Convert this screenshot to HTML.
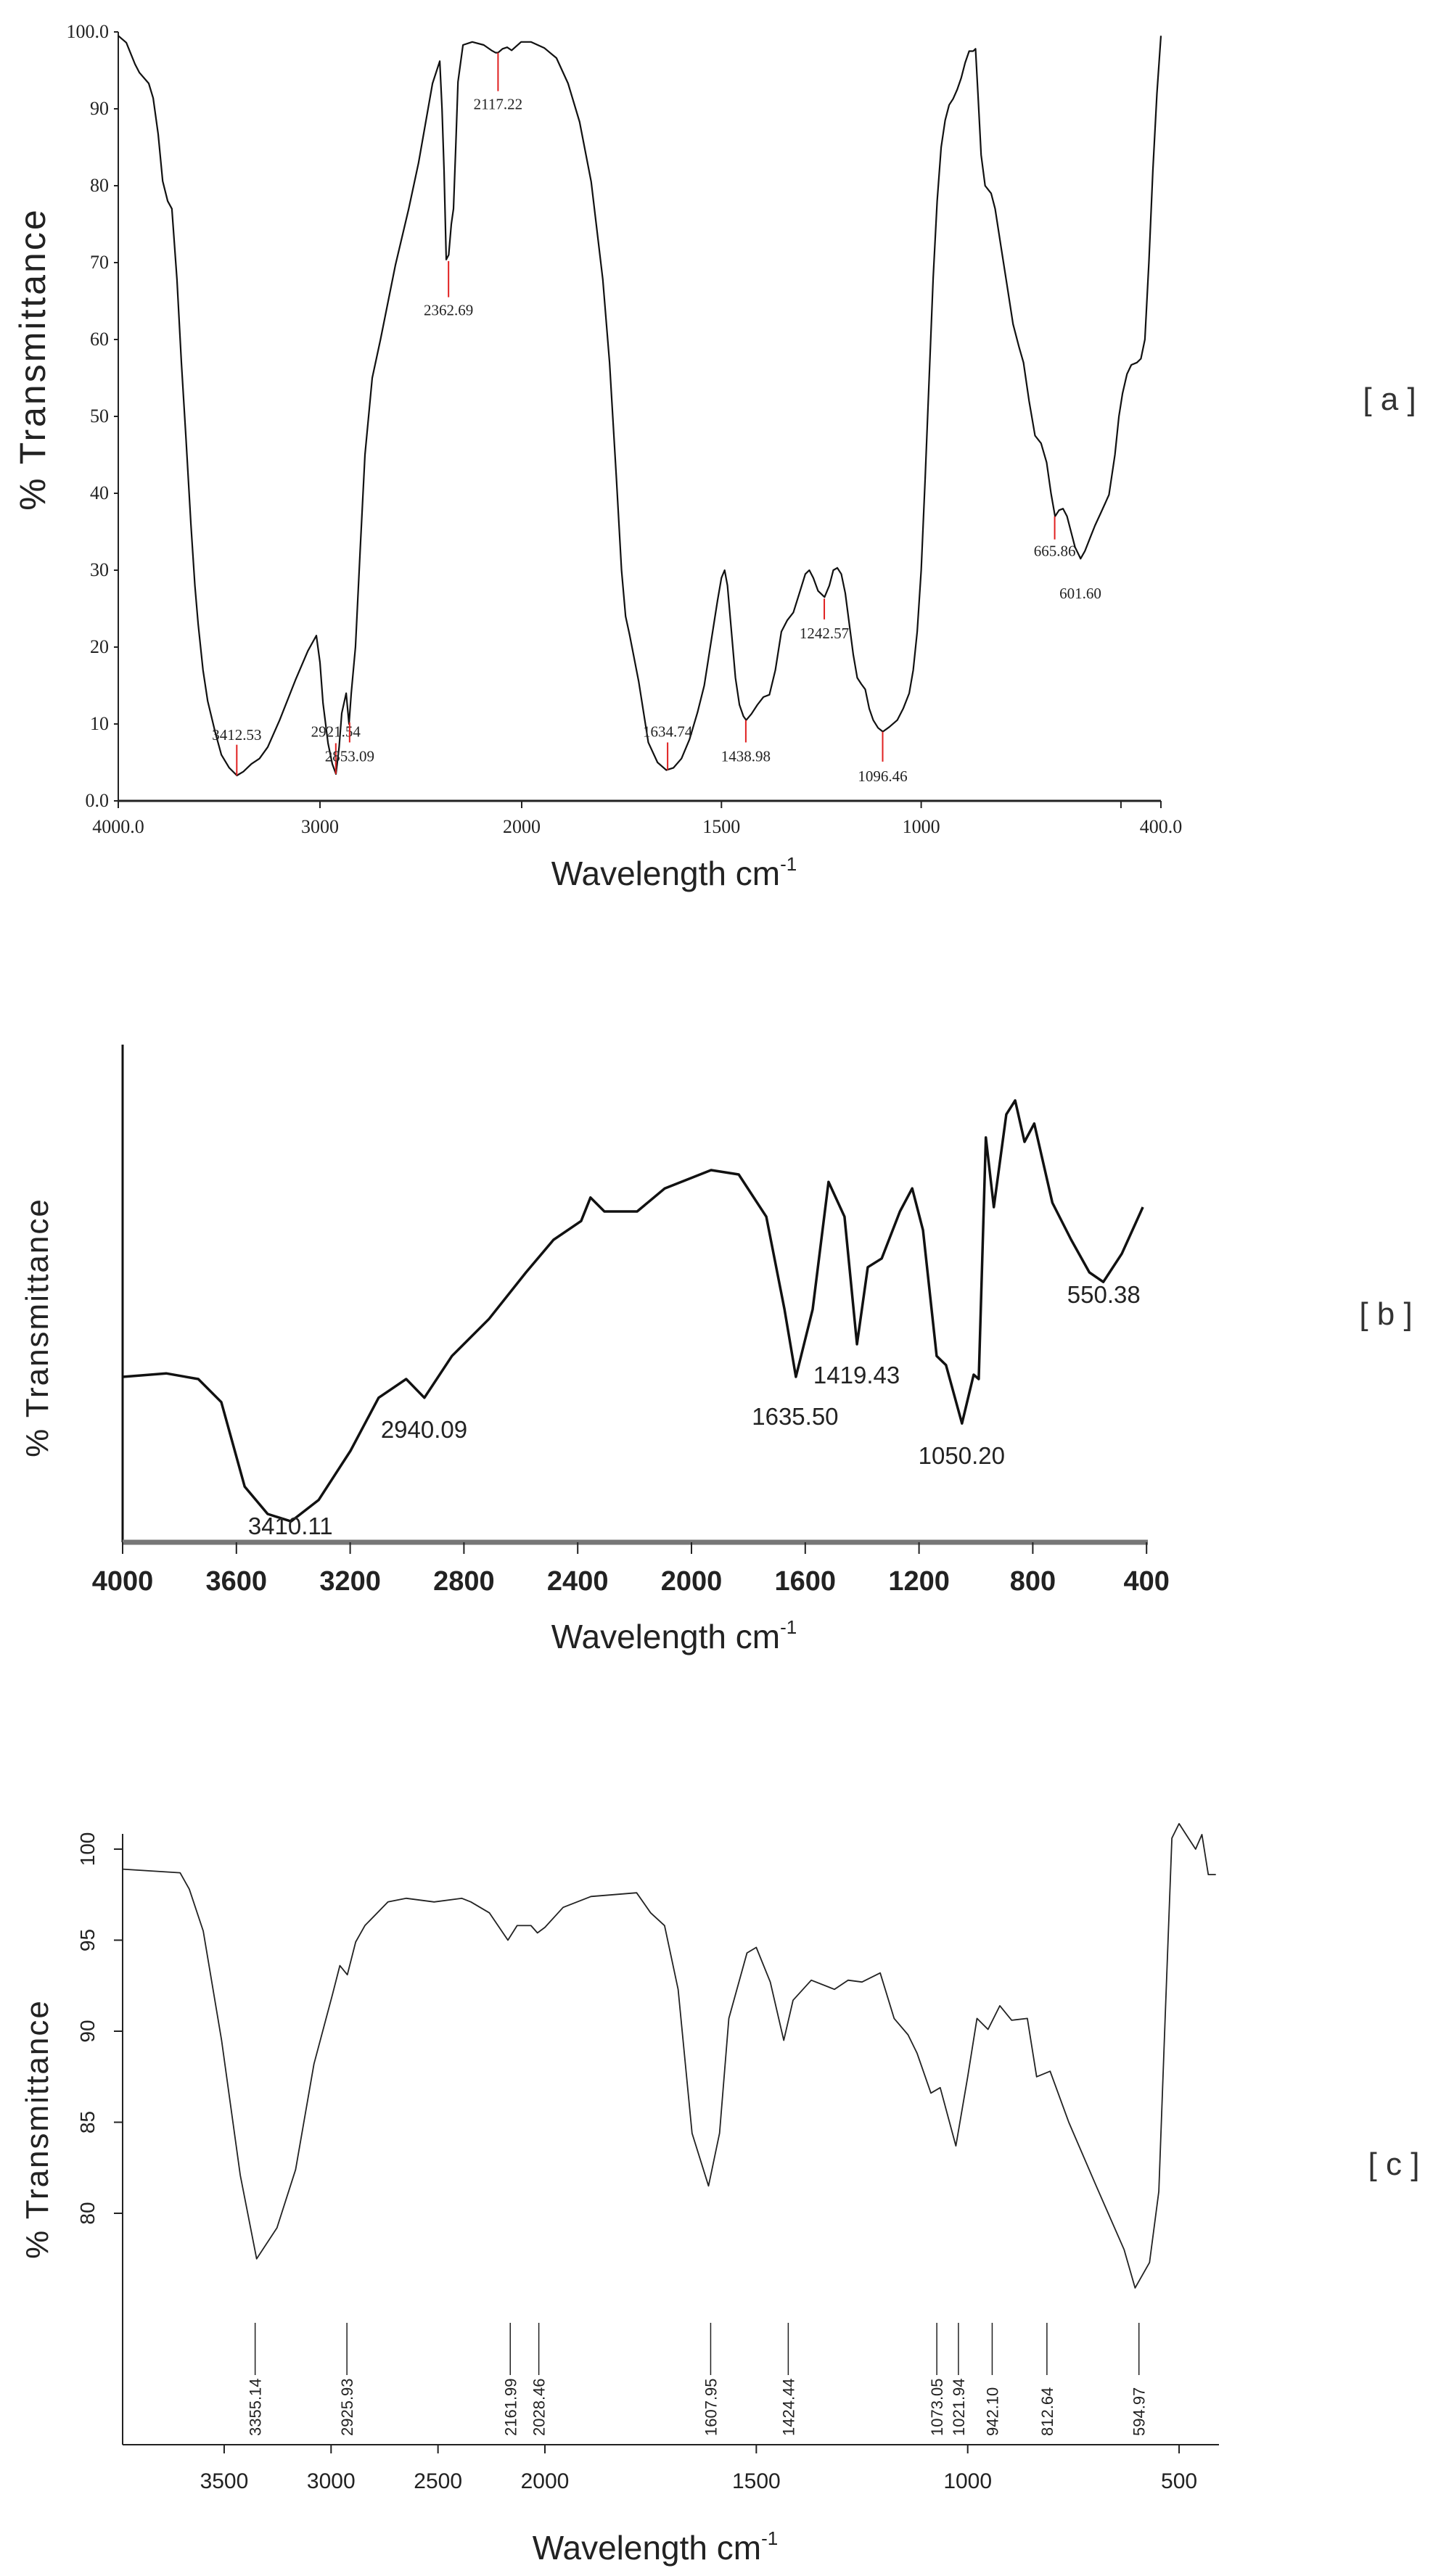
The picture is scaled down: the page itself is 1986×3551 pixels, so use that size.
<!DOCTYPE html>
<html><head><meta charset="utf-8"><title>FTIR spectra</title>
<style>
html,body{margin:0;padding:0;background:#fff;}
svg{display:block;}
.ser{font-family:"Liberation Serif",serif;}
.san{font-family:"Liberation Sans",sans-serif;}
</style></head>
<body>
<svg id="fig" xmlns="http://www.w3.org/2000/svg" width="1986" height="3551" viewBox="0 0 1986 3551">
<rect width="1986" height="3551" fill="#fff"/>
<g id="ga"></g>
<g id="gb"></g>
<g id="gc"></g>
</svg>
<script>
// ---------- Chart A data ----------
const wnA = [4000,3960,3917,3895,3849,3827,3802,3780,3755,3734,3709,3687,3665,3640,3620,3604,3580,3557,3520,3489,3450,3412,3380,3340,3300,3259,3200,3122,3060,3018,3000,2985,2960,2939,2921,2905,2892,2870,2856,2845,2824,2800,2777,2741,2700,2626,2560,2511,2442,2406,2395,2385,2374,2362,2349,2338,2327,2316,2291,2245,2188,2150,2130,2117,2095,2072,2050,2003,1977,1943,1913,1884,1855,1826,1797,1780,1763,1750,1740,1730,1707,1683,1660,1638,1620,1600,1580,1560,1543,1525,1510,1500,1492,1485,1475,1465,1455,1445,1438,1425,1410,1395,1380,1365,1350,1335,1320,1305,1290,1280,1270,1258,1242,1230,1220,1210,1200,1190,1180,1170,1160,1150,1140,1130,1120,1108,1096,1080,1060,1045,1030,1020,1010,1000,990,980,970,960,950,940,930,920,910,900,890,880,870,864,858,850,840,825,815,800,785,770,755,744,730,715,700,686,675,665,655,645,635,625,615,601,590,575,565,550,530,515,505,496,485,474,460,450,440,430,420,410,400];
const tA = [99.5,98.6,95.8,94.7,93.3,91.4,86.7,80.6,78,77,67.8,57,47.5,36,28,23,17,13,9,6,4.3,3.3,3.8,4.8,5.5,7,10.5,15.7,19.5,21.5,18,12.7,7.5,4.8,3.5,7,11.4,14,10,14,20,33,45,55,60,69.7,77,83,93.3,96.2,90,82,70.4,71,75,77,85,93.5,98.3,98.7,98.3,97.6,97.3,97.3,97.8,98,97.6,98.7,98.7,97.9,96.6,93.3,88.3,80.5,67.8,57,42,30,24,21.6,15.5,7.6,5,4,4.3,5.5,8,11.5,15,21,26,29,30,28,22,16,12.5,11,10.5,11.3,12.5,13.5,13.8,17,22,23.5,24.5,27,29.5,30,29,27.3,26.5,28,30,30.3,29.5,27,23,19,16,15.2,14.5,12,10.5,9.5,9,9.6,10.5,12,14,17,22,30,42,55,68,78,85,88.5,90.5,91.3,92.5,94,96,97.5,97.5,97.8,92,84,80,79,77,72,67,62,59,57,52,47.5,46.5,44,40,37,37.8,38,37,35,33,31.5,32.5,34.5,35.8,37.5,39.8,45,50,53,55.5,56.7,57,57.5,60,70,82,92,99.5];
const yTicksA = [100,90,80,70,60,50,40,30,20,10,0];
const yTickLabelsA = ["100.0","90","80","70","60","50","40","30","20","10","0.0"];
const xTicksA = [4000,3000,2000,1500,1000,500,400];
const xTickLabelsA = ["4000.0","3000","2000","1500","1000","","400.0"];
const peakWnA = [3412.53,2921.54,2853.09,2362.69,2117.22,1634.74,1438.98,1242.57,1096.46,665.86,601.60];
const peakLineTopA = [7.3,7.5,10.2,70.2,97.3,7.6,10.5,26.3,9,37,null];
const peakLineBotA = [3.3,3.5,7.6,65.5,92.3,4,7.6,23.6,5.1,34,null];
const peakLabelTA = [8.6,9,5.8,63.8,90.6,9,5.8,21.8,3.2,32.5,27];

// ---------- Chart B data ----------
const wnB = [4000,3847,3734,3653,3571,3490,3408,3311,3199,3100,3003,2939,2842,2712,2582,2485,2388,2355,2306,2191,2094,1931,1834,1737,1673,1633,1574,1518,1462,1418,1380,1331,1267,1224,1186,1138,1105,1049,1008,990,965,937,893,862,829,795,731,665,601,552,487,413];
const tB = [38,38.8,37.5,32.2,12.8,6.5,4.8,9.7,21,33.2,37.5,33.2,42.8,51.3,62,69.5,73.8,79.2,76,76,81.3,85.5,84.5,74.8,53.5,38,53.5,82.8,74.8,45.5,63.2,65.2,76,81.3,71.7,42.8,40.7,27.3,38.5,37.5,93,77,98.3,101.5,92,96.2,78,69.5,62,59.8,66.3,77];
const xTicksB = [4000,3600,3200,2800,2400,2000,1600,1200,800,400];
const peakLabelsB = ["3410.11","2940.09","1635.50","1419.43","1050.20","550.38"];
const peakLabelWnB = [3410.11,2940.09,1635.50,1419.43,1050.20,550.38];
const peakLabelTB = [3.8,26,29,38.5,20,57];

// ---------- Chart C data ----------
const wnC = [3975,3706,3663,3598,3512,3425,3348,3253,3166,3080,2994,2959,2924,2885,2842,2734,2648,2518,2389,2346,2260,2173,2130,2065,2035,2000,1957,1891,1783,1750,1717,1685,1652,1613,1587,1565,1522,1500,1467,1435,1413,1370,1315,1283,1250,1207,1174,1141,1120,1087,1065,1028,1000,978,952,924,896,859,837,805,761,696,630,604,570,548,533,517,500,478,461,446,431,413];
const tC = [98.9,98.7,97.8,95.5,89.5,82.1,77.5,79.2,82.4,88.2,92,93.6,93.1,94.9,95.8,97.1,97.3,97.1,97.3,97.1,96.5,95,95.8,95.8,95.4,95.7,96.8,97.4,97.6,96.5,95.8,92.3,84.4,81.5,84.4,90.7,94.3,94.6,92.7,89.5,91.7,92.8,92.3,92.8,92.7,93.2,90.7,89.8,88.8,86.6,86.9,83.7,87.5,90.7,90.1,91.4,90.6,90.7,87.5,87.8,85,81.5,78,75.9,77.3,81.2,90.7,100.6,101.4,100.6,100,100.8,98.6,98.6];
const yTicksC = [80,85,90,95,100];
const xTicksC = [3500,3000,2500,2000,1500,1000,500];
const peakWnC = [3355.14,2925.93,2161.99,2028.46,1607.95,1424.44,1073.05,1021.94,942.10,812.64,594.97];

// ---------- axis functions ----------
function xA(w){ return w>=2000 ? 163+(4000-w)*0.278 : 719+(2000-w)*0.5506; }
function yA(t){ return 1104 - t*10.6; }
function xB(w){ return 169+(4000-w)*0.392; }
function yB(t){ return 2126 - t*6; }
function xC(w){ return w>=2000 ? 751-(w-2000)*0.2947 : 751+(2000-w)*0.5827; }
function yC(t){ return 2549 + (100-t)*25.1; }

const NS="http://www.w3.org/2000/svg";
function mk(parent, tag, attrs, text){
  const e=document.createElementNS(NS,tag);
  for(const k in attrs) e.setAttribute(k, attrs[k]);
  if(text!==undefined) e.textContent=text;
  parent.appendChild(e); return e;
}
function pathD(ws, ts, fx, fy){
  return ws.map((w,i)=>(i?"L":"M")+fx(w).toFixed(1)+","+fy(ts[i]).toFixed(1)).join(" ");
}

// ================= CHART A =================
const ga=document.getElementById('ga');
let e;
e=mk(ga,'line',{x1:163,y1:44,x2:163,y2:1104,stroke:'#222','stroke-width':2});
 
e=mk(ga,'line',{x1:163,y1:1104,x2:1600,y2:1104,stroke:'#222','stroke-width':3});
 
yTicksA.forEach((v,i)=>{
  const t=mk(ga,'line',{x1:157,y1:yA(v),x2:163,y2:yA(v),stroke:'#222','stroke-width':2});
   
  const l=mk(ga,'text',{x:150,y:yA(v)+8,'text-anchor':'end','font-size':26,fill:'#222',class:'ser'},yTickLabelsA[i]);
   
});
xTicksA.forEach((v,i)=>{
  const t=mk(ga,'line',{x1:xA(v),y1:1104,x2:xA(v),y2:1114,stroke:'#222','stroke-width':2});
   
  if(xTickLabelsA[i]){
    const l=mk(ga,'text',{x:xA(v),y:1148,'text-anchor':'middle','font-size':26,fill:'#222',class:'ser'},xTickLabelsA[i]);
     
  }
});
e=mk(ga,'path',{d:pathD(wnA,tA,xA,yA),fill:'none',stroke:'#111','stroke-width':2.2,'stroke-linejoin':'round'});
 
peakWnA.forEach((w,i)=>{
  if(peakLineTopA[i]!==null){
    const r=mk(ga,'line',{x1:xA(w),y1:yA(peakLineTopA[i]),x2:xA(w),y2:yA(peakLineBotA[i]),stroke:'#e02020','stroke-width':2});
     
  }
  const l=mk(ga,'text',{x:xA(w),y:yA(peakLabelTA[i])+7,'text-anchor':'middle','font-size':21,fill:'#222',class:'ser'},w.toFixed(2));
   
});
e=mk(ga,'text',{x:929,y:1220,'text-anchor':'middle','font-size':46,fill:'#222',class:'san'},'Wavelength cm');
 
mk(e,'tspan',{'font-size':26,dy:-20},'-1');
e=mk(ga,'text',{x:0,y:0,'text-anchor':'middle','font-size':50,fill:'#222',class:'san','letter-spacing':3,transform:'translate(62,495) rotate(-90)'},'% Transmittance');
 
e=mk(ga,'text',{x:1915,y:565,'text-anchor':'middle','font-size':44,fill:'#333',class:'san'},'[ a ]');
 

// ================= CHART B =================
const gb=document.getElementById('gb');
e=mk(gb,'line',{x1:169,y1:1440,x2:169,y2:2126,stroke:'#111','stroke-width':3});
 
e=mk(gb,'line',{x1:169,y1:2126,x2:1582,y2:2126,stroke:'#777','stroke-width':7});
 
xTicksB.forEach(v=>{
  const t=mk(gb,'line',{x1:xB(v),y1:2126,x2:xB(v),y2:2142,stroke:'#222','stroke-width':2});
   
  const l=mk(gb,'text',{x:xB(v),y:2192,'text-anchor':'middle','font-size':38,'font-weight':'bold',fill:'#222',class:'san'},String(v));
   
});
e=mk(gb,'path',{d:pathD(wnB,tB,xB,yB),fill:'none',stroke:'#111','stroke-width':3.5,'stroke-linejoin':'round'});
 
peakLabelWnB.forEach((w,i)=>{
  const l=mk(gb,'text',{x:xB(w),y:yB(peakLabelTB[i])+12,'text-anchor':'middle','font-size':33,fill:'#222',class:'san'},peakLabelsB[i]);
   
});
e=mk(gb,'text',{x:929,y:2272,'text-anchor':'middle','font-size':46,fill:'#222',class:'san'},'Wavelength cm');
 
mk(e,'tspan',{'font-size':26,dy:-20},'-1');
e=mk(gb,'text',{x:0,y:0,'text-anchor':'middle','font-size':44,fill:'#222',class:'san','letter-spacing':2,transform:'translate(66,1830) rotate(-90)'},'% Transmittance');
 
e=mk(gb,'text',{x:1910,y:1826,'text-anchor':'middle','font-size':44,fill:'#333',class:'san'},'[ b ]');
 

// ================= CHART C =================
const gc=document.getElementById('gc');
e=mk(gc,'line',{x1:169,y1:2528,x2:169,y2:3370,stroke:'#222','stroke-width':2});
 
e=mk(gc,'line',{x1:169,y1:3370,x2:1680,y2:3370,stroke:'#222','stroke-width':2});
 
yTicksC.forEach(v=>{
  const t=mk(gc,'line',{x1:157,y1:yC(v),x2:169,y2:yC(v),stroke:'#222','stroke-width':2});
   
  const l=mk(gc,'text',{x:0,y:0,'text-anchor':'middle','font-size':28,fill:'#222',class:'san',transform:'translate(130,'+yC(v)+') rotate(-90)'},String(v));
   
});
xTicksC.forEach(v=>{
  const t=mk(gc,'line',{x1:xC(v),y1:3370,x2:xC(v),y2:3382,stroke:'#222','stroke-width':2});
   
  const l=mk(gc,'text',{x:xC(v),y:3430,'text-anchor':'middle','font-size':30,fill:'#222',class:'san'},String(v));
   
});
e=mk(gc,'path',{d:pathD(wnC,tC,xC,yC),fill:'none',stroke:'#222','stroke-width':1.8,'stroke-linejoin':'round'});
 
peakWnC.forEach(w=>{
  const m=mk(gc,'line',{x1:xC(w),y1:3202,x2:xC(w),y2:3274,stroke:'#222','stroke-width':1.5});
   
  const l=mk(gc,'text',{x:0,y:0,'text-anchor':'start','font-size':22,fill:'#222',class:'san',transform:'translate('+(xC(w)+8)+',3358) rotate(-90)'},w.toFixed(2));
   
});
e=mk(gc,'text',{x:903,y:3528,'text-anchor':'middle','font-size':46,fill:'#222',class:'san'},'Wavelength cm');
 
mk(e,'tspan',{'font-size':26,dy:-20},'-1');
e=mk(gc,'text',{x:0,y:0,'text-anchor':'middle','font-size':44,fill:'#222',class:'san','letter-spacing':2,transform:'translate(66,2935) rotate(-90)'},'% Transmittance');
 
e=mk(gc,'text',{x:1921,y:2998,'text-anchor':'middle','font-size':44,fill:'#333',class:'san'},'[ c ]');
 
</script>
</body></html>
